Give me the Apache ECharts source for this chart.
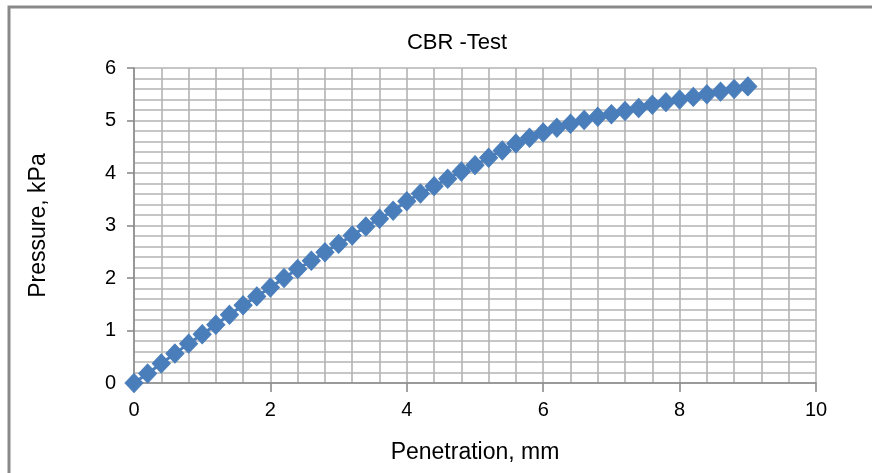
<!DOCTYPE html>
<html><head><meta charset="utf-8">
<script src="https://cdn.jsdelivr.net/npm/echarts@6/dist/echarts.min.js"></script>
<style>html,body{margin:0;padding:0;background:#fff}#c{width:872px;height:473px}</style>
</head><body><div id="c"></div>
<script>
const penetration = [0,0.2,0.4,0.6,0.8,1.0,1.2,1.4,1.6,1.8,2.0,2.2,2.4,2.6,2.8,3.0,3.2,3.4,3.6,3.8,4.0,4.2,4.4,4.6,4.8,5.0,5.2,5.4,5.6,5.8,6.0,6.2,6.4,6.6,6.8,7.0,7.2,7.4,7.6,7.8,8.0,8.2,8.4,8.6,8.8,9.0];
const pressure = [0,0.18,0.37,0.56,0.75,0.93,1.11,1.30,1.48,1.65,1.82,2.00,2.17,2.33,2.49,2.65,2.81,2.98,3.13,3.28,3.46,3.61,3.75,3.89,4.03,4.15,4.29,4.43,4.56,4.67,4.77,4.86,4.94,5.01,5.07,5.12,5.18,5.24,5.30,5.35,5.40,5.45,5.50,5.55,5.60,5.65];
const titleText = 'CBR -Test';
const xName = 'Penetration, mm';
const yName = 'Pressure, kPa';

const FONT = 'Liberation Sans';
const chart = echarts.init(document.getElementById('c'), null, {renderer:'canvas'});
const gridLine = {show:true, lineStyle:{color:'#b3b3b3', width:1.6}};
chart.setOption({
  backgroundColor:'#fff',
  animation:false,
  graphic:[{type:'rect', shape:{x:9, y:7, width:900, height:500}, style:{fill:'none', stroke:'#898989', lineWidth:3}, z:-1}],
  title:{text:titleText, left:452, top:27, textAlign:'center', textStyle:{fontFamily:FONT, fontWeight:'normal', fontSize:22, color:'#000'}},
  grid:{left:134, right:56, top:68, bottom:90},
  xAxis:{type:'value', min:0, max:10, interval:2,
    name:xName, nameLocation:'middle', nameGap:58, nameTextStyle:{fontFamily:FONT, fontSize:23, color:'#000'},
    axisLine:{show:true, lineStyle:{color:'#8c8c8c', width:1.6}},
    axisTick:{show:true, length:9, lineStyle:{color:'#8c8c8c', width:1.6}},
    minorTick:{show:false, splitNumber:5},
    axisLabel:{fontFamily:FONT, fontSize:20, color:'#000', margin:17},
    splitLine:gridLine, minorSplitLine:{show:true, lineStyle:{color:'#b3b3b3', width:1.6}}},
  yAxis:{type:'value', min:0, max:6, interval:1,
    name:yName, nameLocation:'middle', nameGap:84, nameTextStyle:{fontFamily:FONT, fontSize:23, color:'#000'},
    axisLine:{show:true, lineStyle:{color:'#8c8c8c', width:1.6}},
    axisTick:{show:true, length:7, lineStyle:{color:'#8c8c8c', width:1.6}},
    minorTick:{show:false, splitNumber:5},
    axisLabel:{fontFamily:FONT, fontSize:20, color:'#000', margin:18},
    splitLine:gridLine, minorSplitLine:{show:true, lineStyle:{color:'#b3b3b3', width:1.6}}},
  series:[{type:'line', data:penetration.map((x,i)=>[x, pressure[i]]),
    symbol:'diamond', symbolSize:[18,19], showAllSymbol:true,
    itemStyle:{color:'#4a7ebb', borderColor:'#4a7ebb', borderWidth:1},
    lineStyle:{color:'#4a7ebb', width:3}}]
});
</script></body></html>
